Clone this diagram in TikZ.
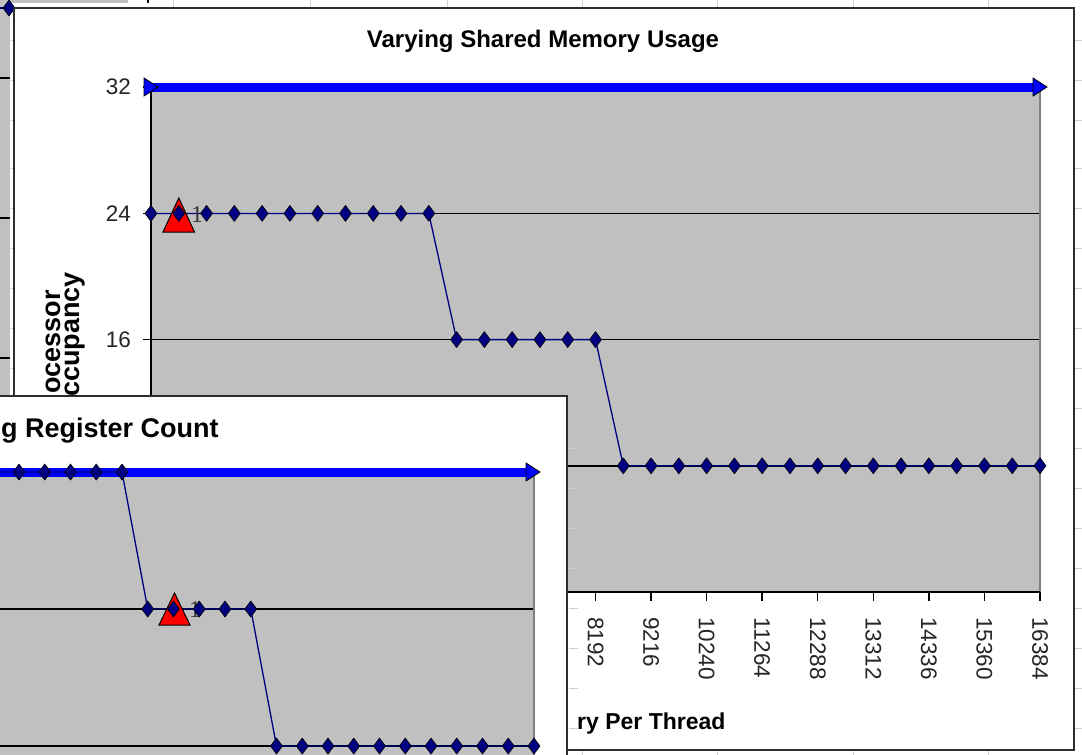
\documentclass[tikz,border=0pt]{standalone}
\usepackage{fontspec}
\setmainfont{Liberation Sans}
\newfontfamily\serf{Liberation Serif}
\definecolor{plotgray}{RGB}{192,192,192}
\definecolor{navyc}{RGB}{0,0,128}
\definecolor{sheet}{RGB}{208,208,208}
\definecolor{framec}{RGB}{45,45,45}
\definecolor{edgegray}{RGB}{128,128,128}
\tikzset{
  chartframe/.style={draw=framec, line width=2.6pt, fill=white},
  plotarea/.style={fill=plotgray},
  gridline/.style={black, line width=1.4pt},
  tickline/.style={black, line width=1.4pt},
  dataline/.style={navyc, line width=1.3pt},
  maxline/.style={blue, line width=9pt},
  mk/.style={fill=navyc, draw=black, line width=0.6pt, line join=round},
  tri/.style={fill=blue, draw=black, line width=0.8pt, line join=miter},
  redtri/.style={fill=red, draw=black, line width=1pt, line join=miter},
  ticklab/.style={text=black!85, font=\fontsize{22.5}{24}\selectfont, inner sep=0pt},
  titlefont/.style={font=\fontsize{24}{26}\selectfont\bfseries, inner sep=0pt},
  axtitle/.style={font=\fontsize{23}{25}\selectfont\bfseries, inner sep=0pt},
  ytitle/.style={font=\fontsize{27}{29}\selectfont\bfseries, inner sep=0pt},
  ptlab/.style={font=\fontsize{24}{26}\selectfont\serf, text=black!80, inner sep=0pt}
}
\newcommand\dmd[2]{\filldraw[mk] ({#1},{#2}) +(0,-8) -- +(6,0) -- +(0,8) -- +(-6,0) -- cycle;}
\begin{document}
\begin{tikzpicture}[x=1pt,y=-1pt]
\path[use as bounding box] (0,0) rectangle (1082,755);
\clip (0,0) rectangle (1082,755);
\fill[white] (0,0) rectangle (1082,755);
% spreadsheet grid
\foreach \cx in {173,310,447,582,717,853,988} {\draw[sheet, line width=1pt] (\cx,0) -- (\cx,755);}
\foreach \ry in {40,80,120,168,208,248,288,328,368,408,448,488,528,568,608,648,688,728} {\draw[sheet, line width=1pt] (0,\ry) -- (1082,\ry);}
% chart in the back (left strip)
\fill[plotgray] (0,0) rectangle (10,395);
\fill[plotgray] (0,0) rectangle (128,3);
\draw[black, line width=1.4pt] (148,0) -- (148,3);
\foreach \gy in {78,218,358} {\draw[gridline] (0,\gy) -- (10,\gy);}
\draw[dataline] (0,8) -- (9,8);
\dmd{9}{8}

% ===== main chart: Varying Shared Memory Usage =====
\draw[chartframe] (14,8) rectangle (1074,750);
\node[titlefont] (mtitle) at (543,41) {Varying Shared Memory Usage};
\fill[plotarea] (151,87) rectangle (1040,592);
\foreach \gy in {213.4,339.6,465.8} {\draw[gridline] (151,\gy) -- (1040,\gy);}
\draw[edgegray, line width=1.4pt] (1040,87) -- (1040,592);
\draw[tickline] (151,87) -- (151,592) -- (1040,592);
\foreach \gy in {87,213.4,339.6,465.8,592} {\draw[tickline] (143,\gy) -- (151,\gy);}
\foreach \k in {0,...,16} {\draw[tickline] ({151+55.5625*\k},592) -- ({151+55.5625*\k},601);}
\node[ticklab, anchor=east] (y32) at (131,87) {32};
\node[ticklab, anchor=east] (y24) at (131,213.4) {24};
\node[ticklab, anchor=east] (y16) at (131,339.6) {16};
\foreach \k/\lab in {8/8192,9/9216,10/10240,11/11264,12/12288,13/13312,14/14336,15/15360,16/16384}
  {\node[ticklab, rotate=-90, anchor=west] (xl\k) at ({151+55.5625*\k},617) {\lab};}
\node[ytitle, rotate=90, anchor=base east] (yt1) at (60,290) {ocessor};
\node[ytitle, rotate=90, anchor=base east] (yt2) at (79,272) {ccupancy};
\node[axtitle, anchor=base west] (xt) at (577,729) {ry Per Thread};
% max line
\draw[maxline] (151,87) -- (1040,87);
\filldraw[tri] (144,78) -- (158,87) -- (144,96) -- cycle;
\filldraw[tri] (1033,78) -- (1047,87) -- (1033,96) -- cycle;
% data line
\draw[dataline] (151,213.4) -- (428.8,213.4) -- (456.6,339.6) -- (595.5,339.6) -- (623.3,465.8) -- (1040,465.8);
\filldraw[redtri] (163,232) -- (178.8,198) -- (194.5,232) -- cycle;
\node[ptlab, anchor=west] (one1) at (191,215) {1};
\foreach \i in {0,...,10} {\dmd{151+27.78125*\i}{213.4}}
\foreach \i in {11,...,16} {\dmd{151+27.78125*\i}{339.6}}
\foreach \i in {17,...,32} {\dmd{151+27.78125*\i}{465.8}}

% ===== front chart: Varying Register Count =====
\draw[chartframe] (-10,396) rectangle (567,780);
\foreach \ry in {448,488,528,568,608,648,688,728} {\draw[sheet, line width=1pt] (569,\ry) -- (578,\ry);}
\node[titlefont, font=\fontsize{27}{29}\selectfont\bfseries, anchor=base west] (ftitle) at (1,437) {g Register Count};
\fill[plotarea] (-10,472) rectangle (534,780);
\foreach \gy in {609,746} {\draw[gridline] (-10,\gy) -- (534,\gy);}
\draw[edgegray, line width=1.4pt] (534,472) -- (534,780);
\draw[maxline] (-10,472) -- (534,472);
\filldraw[tri] (526,463) -- (540,472) -- (526,481) -- cycle;
\draw[dataline] (-30,472) -- (122,472) -- (147.75,609) -- (250.75,609) -- (276.5,746) -- (534,746);
\filldraw[redtri] (159,625) -- (174.5,593) -- (190,625) -- cycle;
\node[ptlab, anchor=west] (one2) at (189,610) {1};
\foreach \k in {16,...,22} {\dmd{534-25.75*\k}{472}}
\foreach \k in {11,...,15} {\dmd{534-25.75*\k}{609}}
\foreach \k in {0,...,10} {\dmd{534-25.75*\k}{746}}
\end{tikzpicture}
\end{document}
